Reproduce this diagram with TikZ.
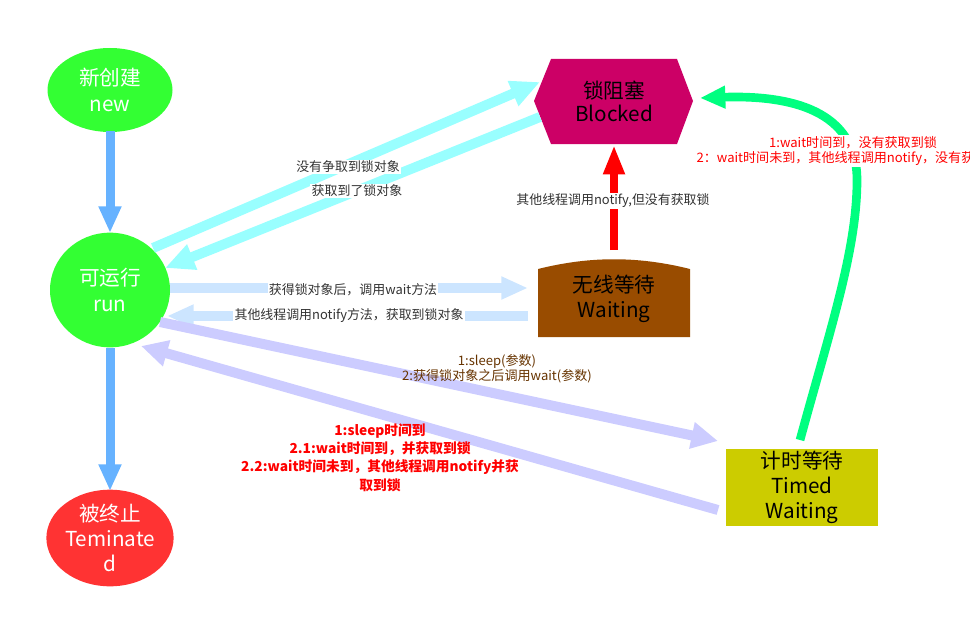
\documentclass[tikz,border=0pt]{standalone}
\usepackage{fontspec}
\setmainfont{Noto Sans CJK SC}
\usetikzlibrary{arrows.meta,shapes.geometric}
\definecolor{cnew}{HTML}{33FF33}
\definecolor{cterm}{HTML}{FF3333}
\definecolor{cblock}{HTML}{CC0066}
\definecolor{cwait}{HTML}{994C00}
\definecolor{ctimed}{HTML}{CCCC00}
\definecolor{cblue}{HTML}{66B2FF}
\definecolor{ccyan}{HTML}{99FFFF}
\definecolor{clight}{HTML}{CCE5FF}
\definecolor{clav}{HTML}{CCCCFF}
\definecolor{cgreen}{HTML}{00FF80}
\definecolor{cbrown}{HTML}{663300}
\definecolor{ctext}{HTML}{333333}
\tikzset{
  bigtext/.style={font=\fontsize{15.5}{19}\selectfont, align=center, inner sep=0pt},
  stateell/.style={ellipse, fill=#1, text=white, bigtext},
  lbl/.style={font=\fontsize{9.7}{11}\selectfont, text=ctext, fill=white, inner sep=1pt},
  brownlbl/.style={font=\fontsize{9.8}{11.5}\selectfont, text=cbrown, align=center, inner sep=1pt},
  redlbl/.style={font=\fontsize{10.3}{13.7}\selectfont\bfseries, text=red, align=center, inner sep=1pt},
  greenlbl/.style={font=\fontsize{9.8}{11}\selectfont, text=red, fill=white, inner sep=1pt},
  fatblue/.style={draw=cblue, line width=6.75pt, -{Triangle[length=20pt,width=16pt]}},
  fatcyan/.style={draw=ccyan, line width=7.5pt, -{Triangle[length=22pt,width=19pt]}},
  fatlight/.style={draw=clight, line width=7.5pt, -{Triangle[length=20pt,width=16pt]}},
  fatlav/.style={draw=clav, line width=7.5pt, -{Triangle[length=20pt,width=19pt]}},
  fatred/.style={draw=red, line width=5.5pt, -{Triangle[length=22pt,width=15pt]}},
  fatgreen/.style={draw=cgreen, line width=6.5pt, -{Triangle[length=19pt,width=16pt]}},
}
\begin{document}
\begin{tikzpicture}[x=0.75pt, y=-0.75pt]
\useasboundingbox (0,0) rectangle (970,617);

% state shapes
\node[stateell=cnew, minimum width=93.75pt, minimum height=63pt] (new) at (110,90) {新创建\\new};
\node[stateell=cnew, minimum width=90pt, minimum height=86pt] (run) at (110,290) {可运行\\run};
\node[stateell=cterm, minimum width=91pt, minimum height=70pt] (term) at (110,538) {被终止\\Teminate\\d};

\fill[cblock] (534,101) -- (551,59) -- (677,59) -- (693,101) -- (677,144) -- (551,144) -- cycle;
\node[bigtext, font=\fontsize{15.5}{17.5}\selectfont] (blocked) at (614,101.5) {锁阻塞\\Blocked};

\fill[cwait] (538,337) -- (538,269) .. controls (590,256) and (638,256) .. (690,269) -- (690,337) -- cycle;
\node[bigtext] (waiting) at (614,299) {无线等待\\Waiting};

\fill[ctimed] (726,449) rectangle (878,526);
\node[bigtext] (timed) at (802,487.5) {计时等待\\Timed\\Waiting};

% connector end points
\coordinate (newS) at (110,131);
\coordinate (runN) at (110,233);
\coordinate (runS) at (110,348);
\coordinate (termN) at (110,491);
\coordinate (runA) at (153,248);
\coordinate (blkA) at (540,82);
\coordinate (blkB) at (540,117);
\coordinate (runB) at (165,268);
\coordinate (runC) at (170,288);
\coordinate (waitC) at (528,288);
\coordinate (waitD) at (528,316);
\coordinate (runD) at (167,316);
\coordinate (runE) at (160,322);
\coordinate (timE) at (718,441);
\coordinate (timF) at (718,510);
\coordinate (runF) at (141,346);
\coordinate (waitN) at (614,250);
\coordinate (blkS) at (614,145);
\coordinate (timN) at (800,440);
\coordinate (blkE) at (700,98);

% connectors
\draw[fatblue] (newS) -- (runN);
\draw[fatblue] (runS) -- (termN);
\draw[fatcyan] (runA) -- (blkA);
\draw[fatcyan] (blkB) -- (runB);
\draw[fatlight] (runC) -- (waitC);
\draw[fatlight] (waitD) -- (runD);
\draw[fatlav] (runE) -- (timE);
\draw[fatlav] (timF) -- (runF);
\draw[fatred] (waitN) -- (blkS);
\draw[fatgreen] (timN) .. controls (830,330) and (857,250) .. (857,180)
   .. controls (857,110) and (790,95) .. (blkE);

% labels
\node[lbl] (l1) at (348,167) {没有争取到锁对象};
\node[lbl] (l2) at (357,191) {获取到了锁对象};
\node[lbl] (l3) at (613,201) {其他线程调用notify,但没有获取锁};
\node[lbl] (l4) at (353,290) {获得锁对象后，调用wait方法};
\node[lbl] (l5) at (349,316) {其他线程调用notify方法，获取到锁对象};
\node[brownlbl] (l6) at (497,368.5) {1:sleep(参数)\\2:获得锁对象之后调用wait(参数)};
\node[redlbl] (l7) at (380,457.5) {1:sleep时间到\\2.1:wait时间到，并获取到锁\\2.2:wait时间未到，其他线程调用notify并获\\取到锁};
\node[greenlbl] (l8) at (853,143) {1:wait时间到，没有获取到锁};
\node[greenlbl, anchor=west] (l9) at (695,159) {2：wait时间未到，其他线程调用notify，没有获};
\end{tikzpicture}
\end{document}
